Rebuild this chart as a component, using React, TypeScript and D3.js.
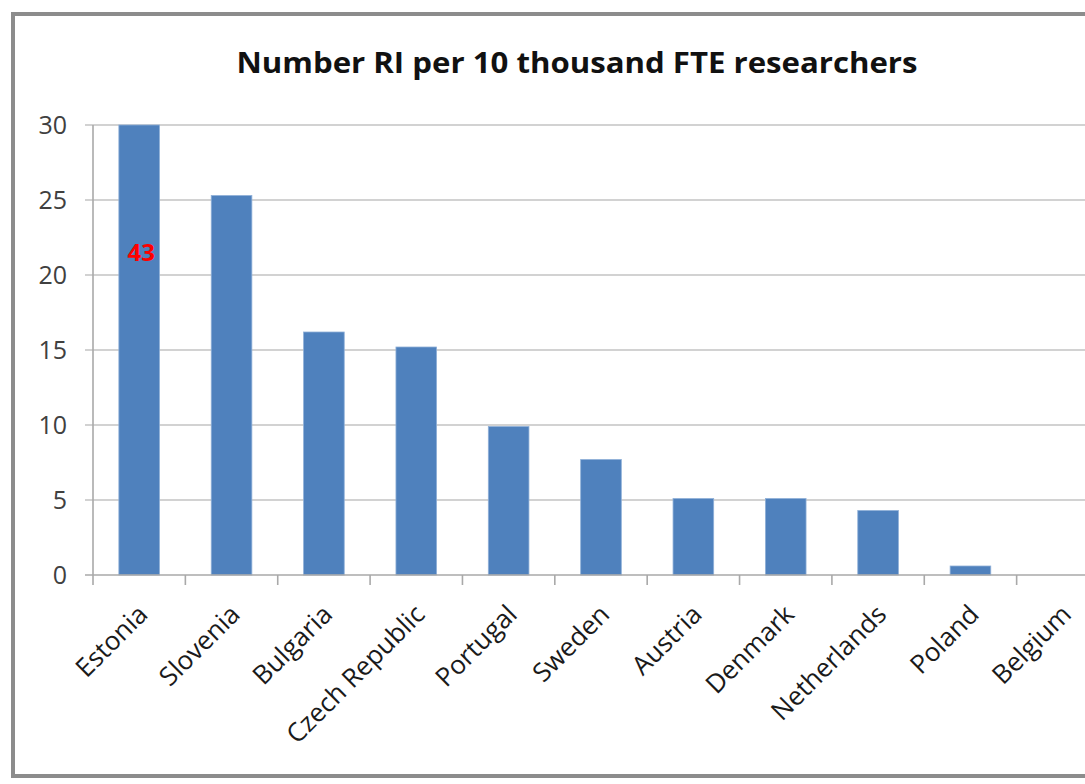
import React from "react";
import * as d3 from "d3";

// Research infrastructures per 10 thousand FTE researchers, by country
const countries = [
  "Estonia",
  "Slovenia",
  "Bulgaria",
  "Czech Republic",
  "Portugal",
  "Sweden",
  "Austria",
  "Denmark",
  "Netherlands",
  "Poland",
  "Belgium",
];
const values = [43, 25.3, 16.2, 15.2, 9.9, 7.7, 5.1, 5.1, 4.3, 0.6, 0];
const yTicks = [0, 5, 10, 15, 20, 25, 30];
const title = "Number RI per 10 thousand FTE researchers";

// Only values above the axis maximum carry a text label
const AXIS_MAX = 30;

const W = 1085;
const H = 784;
const plot = { left: 93, right: 1109, top: 125, bottom: 575 };

const FONT = "'Open Sans', 'Noto Sans', sans-serif";
const BAR = "#4F81BD";
const GRID = "#c3c3c3";
const AXIS = "#a9a9a9";

export default function App() {
  const x = d3
    .scaleBand<string>()
    .domain(countries)
    .range([plot.left, plot.right])
    .paddingInner(0.56)
    .paddingOuter(0.28);

  const y = d3
    .scaleLinear()
    .domain([0, AXIS_MAX])
    .range([plot.bottom, plot.top])
    .clamp(true);

  const step = x.step();
  const center = (c: string) => (x(c) as number) + x.bandwidth() / 2;
  const boundaries = d3.range(countries.length + 1).map((i) => plot.left + i * step);

  return (
    <svg
      width={W}
      height={H}
      style={{ position: "absolute", left: 0, top: 0, background: "#fff" }}
    >
      {/* chart frame (its right side runs past the visible area) */}
      <rect
        x={13}
        y={14}
        width={1200}
        height={762}
        fill="#fff"
        stroke="#8c8c8c"
        strokeWidth={4}
      />

      <text
        x={577}
        y={73}
        textAnchor="middle"
        fontFamily={FONT}
        fontWeight={700}
        fontSize={28}
        fill="#111"
        textLength={681}
        lengthAdjust="spacingAndGlyphs"
      >
        {title}
      </text>

      {/* horizontal gridlines */}
      {yTicks
        .filter((t) => t > 0)
        .map((t) => (
          <line
            key={`g${t}`}
            x1={plot.left - 8}
            x2={W}
            y1={y(t)}
            y2={y(t)}
            stroke={GRID}
            strokeWidth={1.6}
          />
        ))}

      {/* y tick labels */}
      {yTicks.map((t) => (
        <text
          key={`yl${t}`}
          x={67}
          y={y(t)}
          dy="0.36em"
          textAnchor="end"
          fontFamily={FONT}
          fontSize={25}
          fill="#404040"
        >
          {t}
        </text>
      ))}

      {/* bars */}
      {countries.map((c, i) => (
        <rect
          key={`b${c}`}
          x={x(c)}
          y={y(values[i])}
          width={x.bandwidth()}
          height={y(0) - y(values[i])}
          fill={BAR}
          stroke="#8fb0d8"
          strokeWidth={values[i] > 0 ? 0.8 : 0}
        />
      ))}

      {/* value label for the bar that runs past the axis maximum */}
      {countries.map((c, i) =>
        values[i] > AXIS_MAX ? (
          <text
            key={`v${c}`}
            x={center(c) + 2}
            y={y(21.5)}
            dy="0.36em"
            textAnchor="middle"
            fontFamily={FONT}
            fontWeight={700}
            fontSize={24}
            fill="#ff0000"
          >
            {values[i]}
          </text>
        ) : null
      )}

      {/* axes */}
      <line
        x1={plot.left}
        x2={plot.left}
        y1={plot.top}
        y2={plot.bottom}
        stroke={AXIS}
        strokeWidth={1.6}
      />
      <line
        x1={plot.left - 8}
        x2={W}
        y1={plot.bottom}
        y2={plot.bottom}
        stroke={AXIS}
        strokeWidth={1.6}
      />
      {boundaries.map((bx, i) => (
        <line
          key={`t${i}`}
          x1={bx}
          x2={bx}
          y1={plot.bottom}
          y2={plot.bottom + 10}
          stroke={AXIS}
          strokeWidth={1.6}
        />
      ))}

      {/* category labels */}
      {countries.map((c) => (
        <text
          key={`xl${c}`}
          transform={`translate(${center(c) + 10},${plot.bottom + 41}) rotate(-45)`}
          textAnchor="end"
          fontFamily={FONT}
          fontSize={26}
          fill="#1a1a1a"
        >
          {c}
        </text>
      ))}
    </svg>
  );
}
